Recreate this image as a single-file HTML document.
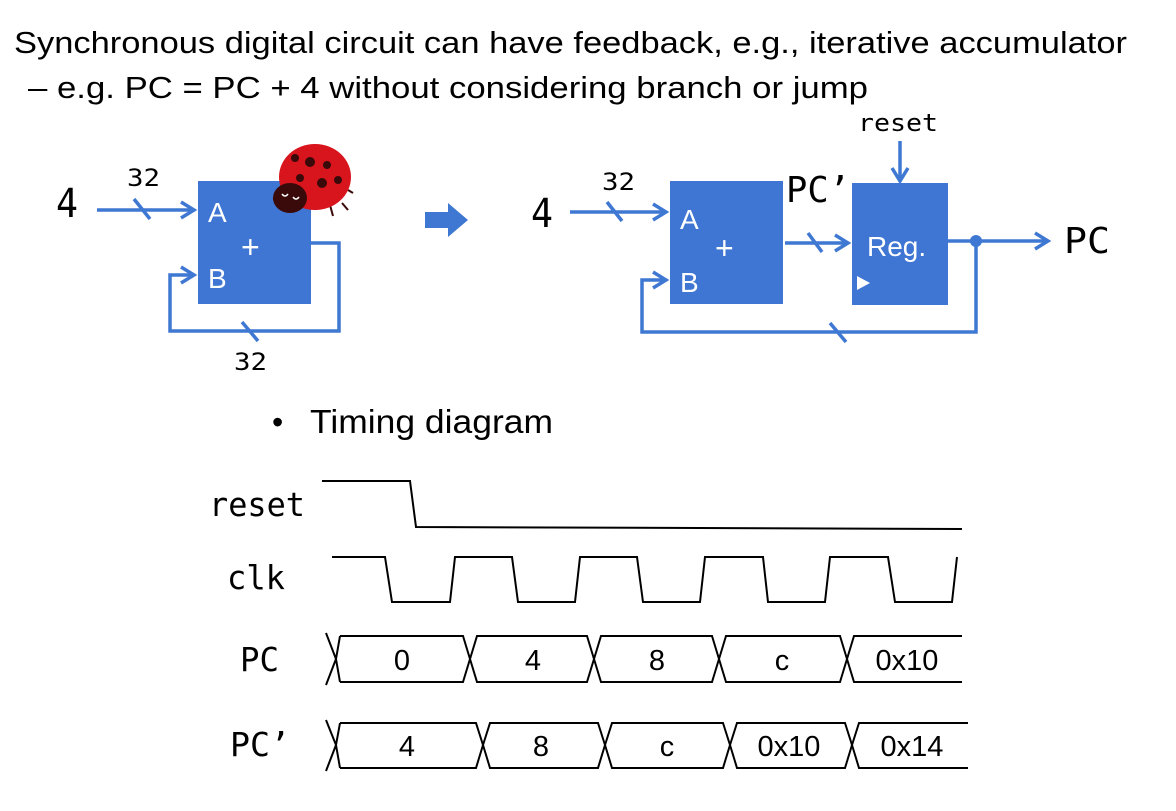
<!DOCTYPE html>
<html><head><style>
html,body{margin:0;padding:0;background:#fff;}
svg{display:block;}
.t{font-family:"Liberation Sans",sans-serif;fill:#000;}
.m{font-family:"DejaVu Sans Mono","Liberation Mono",monospace;fill:#000;}
.w{font-family:"Liberation Sans",sans-serif;fill:#fff;}
.b{stroke:#3f78d2;stroke-width:3.5;fill:none;}
.k{stroke:#000;stroke-width:2;fill:none;}
</style></head><body>
<svg width="1176" height="811" viewBox="0 0 1176 811" xmlns="http://www.w3.org/2000/svg">
<text class="t" x="14" y="53" font-size="31" textLength="1113" lengthAdjust="spacingAndGlyphs">Synchronous digital circuit can have feedback, e.g., iterative accumulator</text>
<text class="t" x="28" y="98" font-size="31" textLength="840" lengthAdjust="spacingAndGlyphs">–  e.g. PC = PC + 4 without considering branch or jump</text>

<!-- left adder -->
<text class="m" x="56" y="217" font-size="40" textLength="22" lengthAdjust="spacingAndGlyphs">4</text>
<text class="m" x="127" y="186" font-size="24" textLength="33" lengthAdjust="spacingAndGlyphs">32</text>
<line class="b" x1="97" y1="210" x2="194" y2="210"/>
<polyline class="b" points="181,202 194,210 181,218"/>
<line class="b" x1="134" y1="199" x2="150" y2="219"/>
<rect x="198" y="181" width="113" height="123" fill="#3f76d3"/>
<text class="w" x="208" y="222" font-size="28">A</text>
<text class="w" x="208" y="288" font-size="28">B</text>
<text class="w" x="241" y="258" font-size="32">+</text>
<polyline class="b" points="311,243 339,243 339,331 170,331 170,275 194,275"/>
<polyline class="b" points="181,267 194,275 181,283"/>
<line class="b" x1="242" y1="322" x2="258" y2="341"/>
<text class="m" x="234" y="370" font-size="24" textLength="33" lengthAdjust="spacingAndGlyphs">32</text>
<!-- ladybug -->
<g>
<line x1="290" y1="196" x2="273" y2="199" stroke="#3a0a0a" stroke-width="2"/>
<line x1="330" y1="205" x2="333" y2="216" stroke="#3a0a0a" stroke-width="2"/>
<line x1="342" y1="203" x2="348" y2="210" stroke="#3a0a0a" stroke-width="2"/>
<line x1="348" y1="190" x2="353" y2="193" stroke="#3a0a0a" stroke-width="2"/>
<ellipse cx="315" cy="177" rx="36" ry="33" fill="#d8141c"/>
<circle cx="310" cy="162" r="5" fill="#3a0a0a"/><circle cx="327" cy="165" r="4" fill="#3a0a0a"/>
<circle cx="322" cy="183" r="5" fill="#3a0a0a"/><circle cx="338" cy="180" r="4" fill="#3a0a0a"/>
<circle cx="300" cy="178" r="4" fill="#3a0a0a"/><circle cx="295" cy="158" r="4" fill="#3a0a0a"/>
<ellipse cx="290" cy="198" rx="17" ry="15" fill="#3a0a0a"/>
<path d="M282 194 q3 4 6 0 M293 197 q3 4 6 0" stroke="#fff" stroke-width="1.5" fill="none"/>
</g>

<!-- big arrow -->
<polygon points="425,212 448,212 448,203 468,220 448,237 448,228 425,228" fill="#3f78d2"/>

<!-- right -->
<text class="m" x="531" y="227" font-size="40" textLength="22" lengthAdjust="spacingAndGlyphs">4</text>
<text class="m" x="602" y="190" font-size="24" textLength="33" lengthAdjust="spacingAndGlyphs">32</text>
<line class="b" x1="570" y1="212" x2="666" y2="212"/>
<polyline class="b" points="653,204 666,212 653,220"/>
<line class="b" x1="607" y1="202" x2="622" y2="221"/>
<rect x="670" y="181" width="113" height="123" fill="#3f76d3"/>
<text class="w" x="680" y="229" font-size="28">A</text>
<text class="w" x="680" y="292" font-size="28">B</text>
<text class="w" x="715" y="259" font-size="32">+</text>
<text class="m" x="786" y="202" font-size="36" textLength="64" lengthAdjust="spacingAndGlyphs">PC’</text>
<line class="b" x1="785" y1="243" x2="848" y2="243"/>
<polyline class="b" points="835,235 848,243 835,251"/>
<line class="b" x1="808" y1="233" x2="822" y2="252"/>
<rect x="852" y="183" width="96" height="122" fill="#3f76d3"/>
<text class="w" x="867" y="256" font-size="28">Reg.</text>
<polygon points="857,276 870,283 857,290" fill="#fff"/>
<text class="m" x="858" y="131" font-size="24" textLength="80" lengthAdjust="spacingAndGlyphs">reset</text>
<line class="b" x1="900" y1="141" x2="900" y2="181"/>
<polyline class="b" points="892,168 900,181 908,168"/>
<line class="b" x1="948" y1="241" x2="1048" y2="241"/>
<polyline class="b" points="1035,233 1048,241 1035,249"/>
<circle cx="976" cy="241" r="6" fill="#3f78d2"/>
<polyline class="b" points="976,241 976,332 642,332 642,280 666,280"/>
<polyline class="b" points="653,272 666,280 653,288"/>
<line class="b" x1="830" y1="323" x2="846" y2="342"/>
<text class="m" x="1064" y="253" font-size="36" textLength="46" lengthAdjust="spacingAndGlyphs">PC</text>

<text class="t" x="272" y="433" font-size="32">•</text>
<text class="t" x="310" y="433" font-size="33" textLength="243" lengthAdjust="spacingAndGlyphs">Timing diagram</text>

<!-- timing -->
<text class="m" x="209" y="516" font-size="33" textLength="96" lengthAdjust="spacingAndGlyphs">reset</text>
<text class="m" x="227" y="589" font-size="33" textLength="58" lengthAdjust="spacingAndGlyphs">clk</text>
<text class="m" x="240" y="671" font-size="33" textLength="39" lengthAdjust="spacingAndGlyphs">PC</text>
<text class="m" x="230" y="756" font-size="33" textLength="60" lengthAdjust="spacingAndGlyphs">PC’</text>
<polyline class="k" points="322,481 410,481 416,527 962,529"/>
<polyline class="k" points="332,557 385,557 392,602 450,602 455,557 512,557 518,602 575,602 580,557 637,557 643,602 700,602 705,557 763,557 768,602 825,602 830,557 888,557 895,602 952,602 957,557"/>
<g class="k">
<path d="M326,633 L336,659 L326,685 M340,636 L336,659 L340,682"/>
<path d="M340,636 H463 L470,659 L477,636 H587 L594,659 L601,636 H712 L719,659 L726,636 H840 L847,659 L854,636 H962"/>
<path d="M340,682 H463 L470,659 L477,682 H587 L594,659 L601,682 H712 L719,659 L726,682 H840 L847,659 L854,682 H962"/>
<path d="M326,720 L336,745 L326,771 M340,723 L336,745 L340,768"/>
<path d="M340,723 H476 L483,745 L490,723 H598 L605,745 L612,723 H723 L730,745 L737,723 H845 L852,745 L859,723 H968"/>
<path d="M340,768 H476 L483,745 L490,768 H598 L605,745 L612,768 H723 L730,745 L737,768 H845 L852,745 L859,768 H968"/>
</g>
<g class="t" font-size="29" text-anchor="middle">
<text x="402" y="670">0</text><text x="533" y="670">4</text><text x="657" y="670">8</text><text x="782" y="670">c</text><text x="907" y="670">0x10</text>
<text x="407" y="756">4</text><text x="541" y="756">8</text><text x="667" y="756">c</text><text x="789" y="756">0x10</text><text x="912" y="756">0x14</text>
</g>
</svg>
</body></html>
